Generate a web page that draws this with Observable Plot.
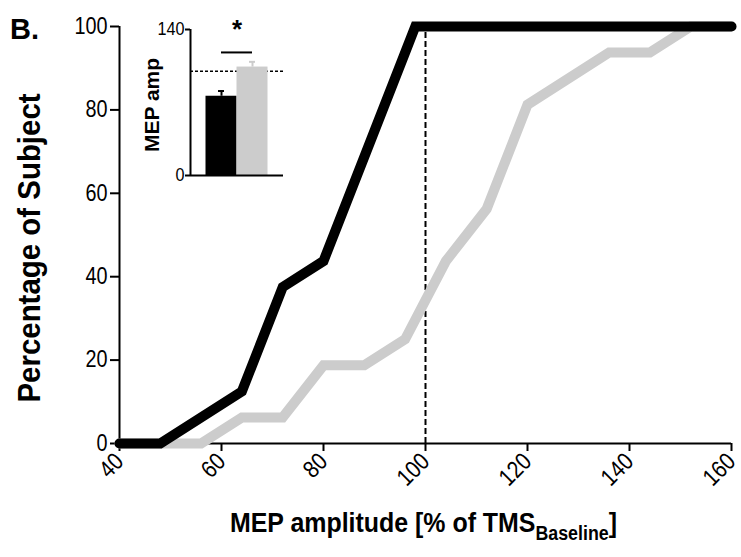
<!DOCTYPE html>
<html><head><meta charset="utf-8">
<script src="https://cdn.jsdelivr.net/npm/d3@7"></script>
<script src="https://cdn.jsdelivr.net/npm/@observablehq/plot@0.6"></script>
<style>
body{margin:0;background:#fff;}
#wrap{position:relative;width:741px;height:557px;background:#fff;}
#main{position:absolute;left:0;top:0;}
#inset{position:absolute;left:130px;top:0;}
</style></head><body><div id="wrap"><div id="main"></div><div id="inset"></div></div>
<script>
// Cumulative distributions (percentage of subjects) vs MEP amplitude
const blackX = [40, 48, 64, 72, 80, 96, 98, 160];
const blackY = [0, 0, 12.5, 37.5, 43.75, 93.75, 100, 100];
const grayX = [40, 56, 64, 72, 80, 88, 96, 104, 112, 120, 136, 144, 152, 160];
const grayY = [0, 0, 6.25, 6.25, 18.75, 18.75, 25, 43.75, 56.25, 81.25, 93.75, 93.75, 100, 100];
const xTicks = [40, 60, 80, 100, 120, 140, 160];
const yTicks = [0, 20, 40, 60, 80, 100];
const refLineX = [100];

// Inset bar chart
const insetGroups = ["black", "gray"];
const insetMeans = [76, 104];
const insetErrs = [5, 5];
const insetColors = ["#000000", "#cccccc"];
const insetRef = [100];
const insetTicks = [0, 140];
const sigLevel = 118;

const FONT = "'Liberation Sans', Arial, Helvetica, sans-serif";

const blackData = blackX.map((x, i) => ({x, y: blackY[i]}));
const grayData = grayX.map((x, i) => ({x, y: grayY[i]}));

// condense tick labels horizontally (reference uses a narrow face)
function condense(svgNode, sx) {
  d3.select(svgNode).selectAll("g[aria-label$='tick label'] text").each(function () {
    const w = this.getComputedTextLength();
    if (w > 0) {
      this.setAttribute("textLength", (w * sx).toFixed(2));
      this.setAttribute("lengthAdjust", "spacingAndGlyphs");
    }
  });
}

const main = Plot.plot({
  width: 741, height: 557,
  marginLeft: 119, marginRight: 10, marginTop: 26, marginBottom: 114,
  style: {fontFamily: FONT, fontSize: "23px", color: "#000", background: "#fff", overflow: "visible"},
  x: {domain: [40, 160]},
  y: {domain: [0, 100]},
  marks: [
    Plot.ruleX(refLineX, {y1: 0, y2: 100, stroke: "#000", strokeWidth: 2, strokeDasharray: "6,3"}),
    Plot.ruleY([0], {x1: 40, x2: 160, stroke: "#000", strokeWidth: 2}),
    Plot.ruleX([40], {y1: 0, y2: 100, stroke: "#000", strokeWidth: 2}),
    Plot.axisX({ticks: xTicks, tickSize: 8, tickPadding: 6, tickRotate: -45, label: null, strokeWidth: 2, fontSize: 24}),
    Plot.axisY({ticks: yTicks, tickSize: 9, tickPadding: 3, label: null, strokeWidth: 2, fontSize: 23}),
    Plot.line(grayData, {x: "x", y: "y", stroke: "#cccccc", strokeWidth: 10, strokeLinejoin: "miter", strokeMiterlimit: 10}),
    Plot.line(blackData, {x: "x", y: "y", stroke: "#000000", strokeWidth: 10, strokeLinejoin: "miter", strokeMiterlimit: 10})
  ]
});
document.getElementById("main").appendChild(main);
condense(main, 0.86);

// Titles added as real SVG text
const svg = d3.select(main);
svg.append("text")
  .attr("transform", "translate(10,39)")
  .attr("text-anchor", "start")
  .attr("font-family", FONT).attr("font-weight", "bold").attr("font-size", 29)
  .attr("fill", "#000").text("B.");
svg.append("text")
  .attr("transform", "translate(40,248) rotate(-90) scale(0.95,1)")
  .attr("text-anchor", "middle")
  .attr("font-family", FONT).attr("font-weight", "bold").attr("font-size", 31)
  .attr("fill", "#000").text("Percentage of Subject");
const xlab = svg.append("text")
  .attr("transform", "translate(230,532) scale(0.89,1)")
  .attr("text-anchor", "start")
  .attr("font-family", FONT).attr("font-weight", "bold").attr("font-size", 28)
  .attr("fill", "#000");
xlab.append("tspan").text("MEP amplitude [% of TMS");
xlab.append("tspan").attr("font-size", 20).attr("dy", 8).text("Baseline");
xlab.append("tspan").attr("dy", -8).text("]");

// Inset
const insetData = insetGroups.map((g, i) => ({g, i, m: insetMeans[i], e: insetErrs[i], c: insetColors[i]}));
const inset = Plot.plot({
  width: 160, height: 190,
  marginLeft: 60, marginRight: 7, marginTop: 29, marginBottom: 15,
  style: {fontFamily: FONT, fontSize: "18px", color: "#000", background: "transparent", overflow: "visible"},
  x: {domain: [-1, 2], axis: null},
  y: {domain: [0, 140]},
  marks: [
    Plot.ruleY(insetRef, {x1: -1, x2: 2, stroke: "#000", strokeWidth: 1.5, strokeDasharray: "3,2"}),
    Plot.rectY(insetData, {x1: d => d.i - 0.5, x2: d => d.i + 0.5, y1: 0, y2: "m", fill: "c"}),
    Plot.ruleX(insetData, {x: "i", y1: "m", y2: d => d.m + d.e, stroke: "c", strokeWidth: 2}),
    Plot.ruleY(insetData, {y: d => d.m + d.e, x1: "i", x2: "i", stroke: "c", strokeWidth: 2, insetLeft: -3, insetRight: -3}),
    Plot.ruleY([sigLevel], {x1: 0, x2: 1, stroke: "#000", strokeWidth: 2}),
    Plot.text(["*"], {x: 0.5, y: 140, fontSize: 26, fontWeight: "bold"}),
    Plot.ruleY([0], {x1: -1, x2: 2, stroke: "#000", strokeWidth: 2}),
    Plot.ruleX([-1], {y1: 0, y2: 140, stroke: "#000", strokeWidth: 2}),
    Plot.axisY({ticks: insetTicks, tickSize: 5, tickPadding: 1, label: null, strokeWidth: 2, fontSize: 18})
  ]
});
document.getElementById("inset").appendChild(inset);
condense(inset, 0.9);
d3.select(inset).append("text")
  .attr("transform", "translate(29,105) rotate(-90)")
  .attr("text-anchor", "middle")
  .attr("font-family", FONT).attr("font-weight", "bold").attr("font-size", 21)
  .attr("fill", "#000").text("MEP amp");
</script></body></html>
